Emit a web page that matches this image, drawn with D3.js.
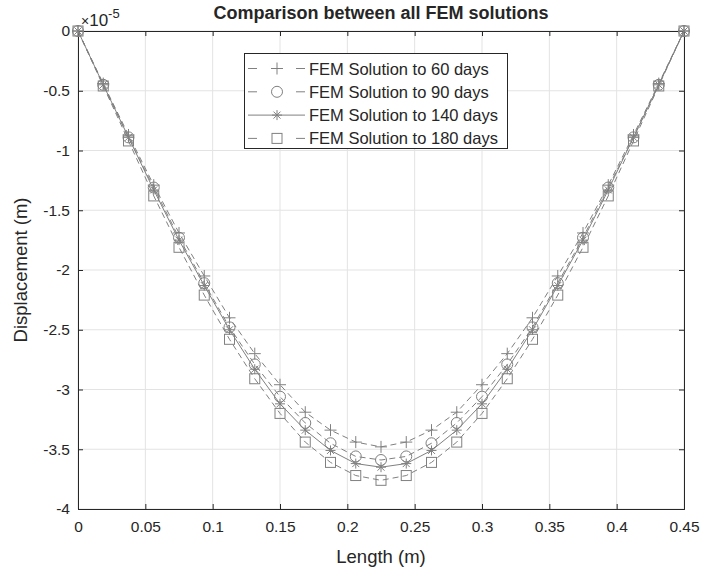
<!DOCTYPE html>
<html>
<head>
<meta charset="utf-8">
<script src="https://cdn.jsdelivr.net/npm/d3@7"></script>
<style>
  body { margin: 0; background: #fff; }
  text { font-family: "Liberation Sans", Arial, sans-serif; fill: #262626; }
</style>
</head>
<body>
<svg id="chart" width="702" height="571"></svg>
<script>
    // positions along the beam (m)
    var lengths = [0, 0.01875, 0.0375, 0.05625, 0.075, 0.09375, 0.1125, 0.13125, 0.15,
        0.16875, 0.1875, 0.20625, 0.225, 0.24375, 0.2625, 0.28125, 0.3, 0.31875,
        0.3375, 0.35625, 0.375, 0.39375, 0.4125, 0.43125, 0.45];

    // displacement values, in units of 1e-5 m
    var days60 = [0, -0.44, -0.87, -1.29, -1.69, -2.05, -2.40, -2.70, -2.96, -3.19, -3.34, -3.44, -3.48,
        -3.44, -3.34, -3.19, -2.96, -2.70, -2.40, -2.05, -1.69, -1.29, -0.87, -0.44, 0];
    var days90 = [0, -0.45, -0.89, -1.31, -1.73, -2.11, -2.48, -2.79, -3.06, -3.28, -3.45, -3.56, -3.59,
        -3.56, -3.45, -3.28, -3.06, -2.79, -2.48, -2.11, -1.73, -1.31, -0.89, -0.45, 0];
    var days140 = [0, -0.45, -0.89, -1.33, -1.75, -2.13, -2.50, -2.83, -3.12, -3.34, -3.51, -3.62, -3.65,
        -3.62, -3.51, -3.34, -3.12, -2.83, -2.50, -2.13, -1.75, -1.33, -0.89, -0.45, 0];
    var days180 = [0, -0.46, -0.92, -1.38, -1.81, -2.21, -2.58, -2.91, -3.20, -3.44, -3.61, -3.72, -3.76,
        -3.72, -3.61, -3.44, -3.20, -2.91, -2.58, -2.21, -1.81, -1.38, -0.92, -0.46, 0];

    var seriesNames = ["FEM Solution to 60 days", "FEM Solution to 90 days",
        "FEM Solution to 140 days", "FEM Solution to 180 days"];
    var xTicks = [0, 0.05, 0.1, 0.15, 0.2, 0.25, 0.3, 0.35, 0.4, 0.45];
    var yTicks = [0, -0.5, -1, -1.5, -2, -2.5, -3, -3.5, -4];

    var series = [
        {name: seriesNames[0], values: days60, marker: "plus", dash: "6,4"},
        {name: seriesNames[1], values: days90, marker: "circle", dash: "6,4"},
        {name: seriesNames[2], values: days140, marker: "star", dash: null},
        {name: seriesNames[3], values: days180, marker: "square", dash: "6,4"}
    ];

    var plotLeft = 78, plotTop = 31, plotRight = 684, plotBottom = 509;
    var gray = "#808080";

    var svg = d3.select("#chart");

    var xScale = d3.scaleLinear().domain([0, 0.45]).range([plotLeft, plotRight]);
    var yScale = d3.scaleLinear().domain([-4, 0]).range([plotBottom, plotTop]);

    // grid
    var grid = svg.append("g");
    grid.selectAll(".gx").data(xTicks).enter().append("line")
        .attr("x1", function (d) { return xScale(d); })
        .attr("x2", function (d) { return xScale(d); })
        .attr("y1", plotTop).attr("y2", plotBottom)
        .attr("stroke", "#e3e3e3").attr("stroke-width", 1);
    grid.selectAll(".gy").data(yTicks).enter().append("line")
        .attr("y1", function (d) { return yScale(d); })
        .attr("y2", function (d) { return yScale(d); })
        .attr("x1", plotLeft).attr("x2", plotRight)
        .attr("stroke", "#e3e3e3").attr("stroke-width", 1);

    // axes (plain hyphen for negatives, like the original)
    var fmt = function (d) { return String(+d.toFixed(2)); };
    var xAxis = d3.axisBottom(xScale).tickValues(xTicks).tickSize(-5).tickPadding(12).tickFormat(fmt);
    var yAxis = d3.axisLeft(yScale).tickValues(yTicks).tickSize(-5).tickPadding(8).tickFormat(fmt);
    var xTop = d3.axisTop(xScale).tickValues(xTicks).tickSize(-5).tickFormat("");
    var yRight = d3.axisRight(yScale).tickValues(yTicks).tickSize(-5).tickFormat("");

    function styleAxis(g) {
        g.selectAll("path").attr("stroke", "#262626").attr("stroke-width", 1);
        g.selectAll("line").attr("stroke", "#262626").attr("stroke-width", 1);
        g.selectAll("text").style("font-size", "15.5px").attr("fill", "#262626")
            .style("font-family", "Liberation Sans, Arial, sans-serif");
    }

    svg.append("g").attr("transform", "translate(0," + plotBottom + ")").call(xAxis).call(styleAxis);
    svg.append("g").attr("transform", "translate(" + plotLeft + ",0)").call(yAxis).call(styleAxis);
    svg.append("g").attr("transform", "translate(0," + plotTop + ")").call(xTop).call(styleAxis);
    svg.append("g").attr("transform", "translate(" + plotRight + ",0)").call(yRight).call(styleAxis);

    // lines and markers
    var line = d3.line()
        .x(function (d, i) { return xScale(lengths[i]); })
        .y(function (d) { return yScale(d); });

    var plot = svg.append("g");

    function drawMarker(g, type, x, y) {
        if (type === "plus") {
            g.append("path").attr("d", "M" + (x - 6) + "," + y + "H" + (x + 6) + "M" + x + "," + (y - 6) + "V" + (y + 6))
                .attr("stroke", gray).attr("fill", "none");
        } else if (type === "circle") {
            g.append("circle").attr("cx", x).attr("cy", y).attr("r", 5.5)
                .attr("stroke", gray).attr("fill", "none");
        } else if (type === "star") {
            var s = 5, p = "";
            p += "M" + (x - s) + "," + y + "H" + (x + s);
            p += "M" + x + "," + (y - s) + "V" + (y + s);
            p += "M" + (x - s * 0.7) + "," + (y - s * 0.7) + "L" + (x + s * 0.7) + "," + (y + s * 0.7);
            p += "M" + (x - s * 0.7) + "," + (y + s * 0.7) + "L" + (x + s * 0.7) + "," + (y - s * 0.7);
            g.append("path").attr("d", p).attr("stroke", gray).attr("fill", "none");
        } else if (type === "square") {
            g.append("rect").attr("x", x - 5).attr("y", y - 5).attr("width", 10).attr("height", 10)
                .attr("stroke", gray).attr("fill", "none");
        }
    }

    series.forEach(function (s) {
        plot.append("path")
            .attr("d", line(s.values))
            .attr("fill", "none")
            .attr("stroke", gray)
            .attr("stroke-width", 1)
            .attr("stroke-dasharray", s.dash);
        var mg = plot.append("g");
        s.values.forEach(function (v, i) {
            drawMarker(mg, s.marker, xScale(lengths[i]), yScale(v));
        });
    });

    // legend
    var lg = svg.append("g");
    lg.append("rect").attr("x", 244.5).attr("y", 53.5).attr("width", 263).attr("height", 95)
        .attr("fill", "#fff").attr("stroke", "#262626").attr("stroke-width", 1);
    series.forEach(function (s, i) {
        var y = 68.5 + i * 23.3;
        lg.append("line").attr("x1", 248).attr("x2", 305).attr("y1", y).attr("y2", y)
            .attr("stroke", gray).attr("stroke-width", 1)
            .attr("stroke-dasharray", s.dash ? "9,39,9" : null);
        var mg = lg.append("g");
        drawMarker(mg, s.marker, 277, y);
        lg.append("text").attr("x", 309).attr("y", y + 6)
            .style("font-size", "16.5px").text(s.name);
    });

    // title and labels
    svg.append("text").attr("x", 381).attr("y", 19).attr("text-anchor", "middle")
        .style("font-size", "18px").style("font-weight", "bold").attr("fill", "#000")
        .text("Comparison between all FEM solutions");
    svg.append("text").attr("x", 381).attr("y", 563).attr("text-anchor", "middle")
        .style("font-size", "18.5px").text("Length (m)");
    svg.append("text").attr("transform", "translate(27," + ((plotTop + plotBottom) / 2) + ") rotate(-90)")
        .attr("text-anchor", "middle").style("font-size", "18.5px").text("Displacement (m)");

    var exp = svg.append("text").attr("x", 81).attr("y", 26).style("font-size", "17px");
    exp.append("tspan").style("font-size", "14px").text("\u00d7");
    exp.append("tspan").text("10");
    exp.append("tspan").attr("dy", -8).style("font-size", "13px").text("-5");
</script>
</body>
</html>
